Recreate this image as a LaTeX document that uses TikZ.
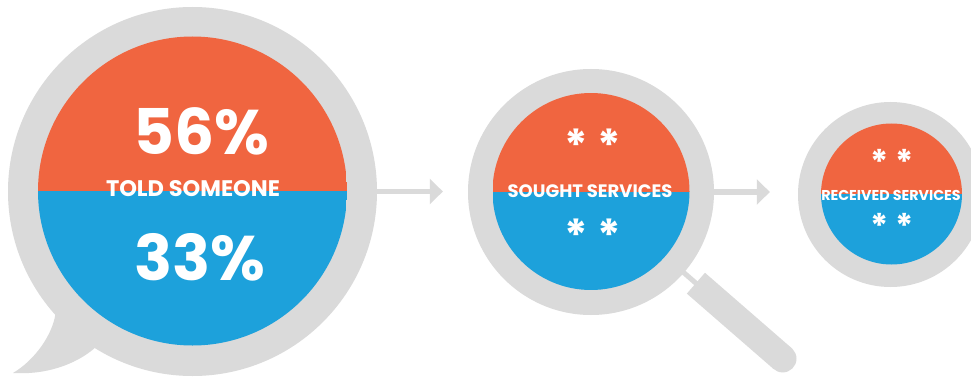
\documentclass[tikz,border=0pt]{standalone}
\usepackage{fontspec}
\setmainfont{Poppins}
\usetikzlibrary{arrows.meta,calc}
\definecolor{bubblegray}{HTML}{DADADA}
\definecolor{yescol}{HTML}{F06540}
\definecolor{nocol}{HTML}{1DA1DB}
\tikzset{
  ringdisc/.style={circle, fill=bubblegray, inner sep=0pt, minimum size=#1},
  halves/.style={circle, inner sep=0pt, minimum size=#1, path picture={
    \fill[yescol] (path picture bounding box.north west) rectangle (path picture bounding box.east);
    \fill[nocol] (path picture bounding box.west) rectangle (path picture bounding box.south east);}},
  flow/.style={-{Triangle[length=13pt,width=25pt]}, draw=bubblegray, line width=5.5pt},
  wtext/.style={text=white, inner sep=0pt, font=\bfseries\fontsize{#1}{#1}\selectfont}
}
\begin{document}
\begin{tikzpicture}[x=1pt, y=-1pt]
\clip (0,0) rectangle (971,377);
\fill[white] (0,0) rectangle (971,377);
\node[ringdisc=369pt] (told) at (192.5,191.5) {};
\fill[bubblegray] (told.222) .. controls (52,335) and (35,360) .. (13,373)
  .. controls (45,375) and (75,365) .. (told.238) -- (told.center) -- cycle;
\node[halves=309pt] (toldin) at (192.5,191) {};
\node[ringdisc=246pt] (sought) at (591,192) {};
\draw[bubblegray, line width=5pt] ($(sought.center)!110pt!(sought.-41)$) -- ($(sought.center)!140pt!(sought.-41)$);
\draw[bubblegray, line width=27.6pt] ($(sought.center)!139pt!(sought.-41)$) coordinate (grip)
  -- ($(sought.center)!254pt!(sought.-41)$) coordinate (gripend);
\fill[bubblegray] (gripend) circle (13.8pt);
\node[halves=197pt] (soughtin) at (591,191.5) {};
\node[ringdisc=185pt] (received) at (890.5,194.5) {};
\node[halves=141pt] (receivedin) at (891.5,194) {};
\draw[flow, shorten >=25pt] (told.east) -- (told.east -| sought.west);
\draw[flow, shorten >=28pt] (sought.east) -- (sought.east -| received.west);
\node[wtext=63pt] (toldyes) at (201,131) {56\%};
\node[wtext=22.5pt] (toldlbl) at (193,189) {TOLD SOMEONE};
\node[wtext=63pt] (toldno) at (200,257) {33\%};
\node[wtext=44pt] (soughtyes) at (593,145.5) {* *};
\node[wtext=18pt] (soughtlbl) at (590,191) {SOUGHT SERVICES};
\node[wtext=44pt] (soughtno) at (593,235.5) {* *};
\node[wtext=34pt] (receivedyes) at (892,161.5) {* *};
\node[wtext=14.3pt] (receivedlbl) at (891,195) {RECEIVED SERVICES};
\node[wtext=34pt] (receivedno) at (892,225.5) {* *};
\end{tikzpicture}
\end{document}
